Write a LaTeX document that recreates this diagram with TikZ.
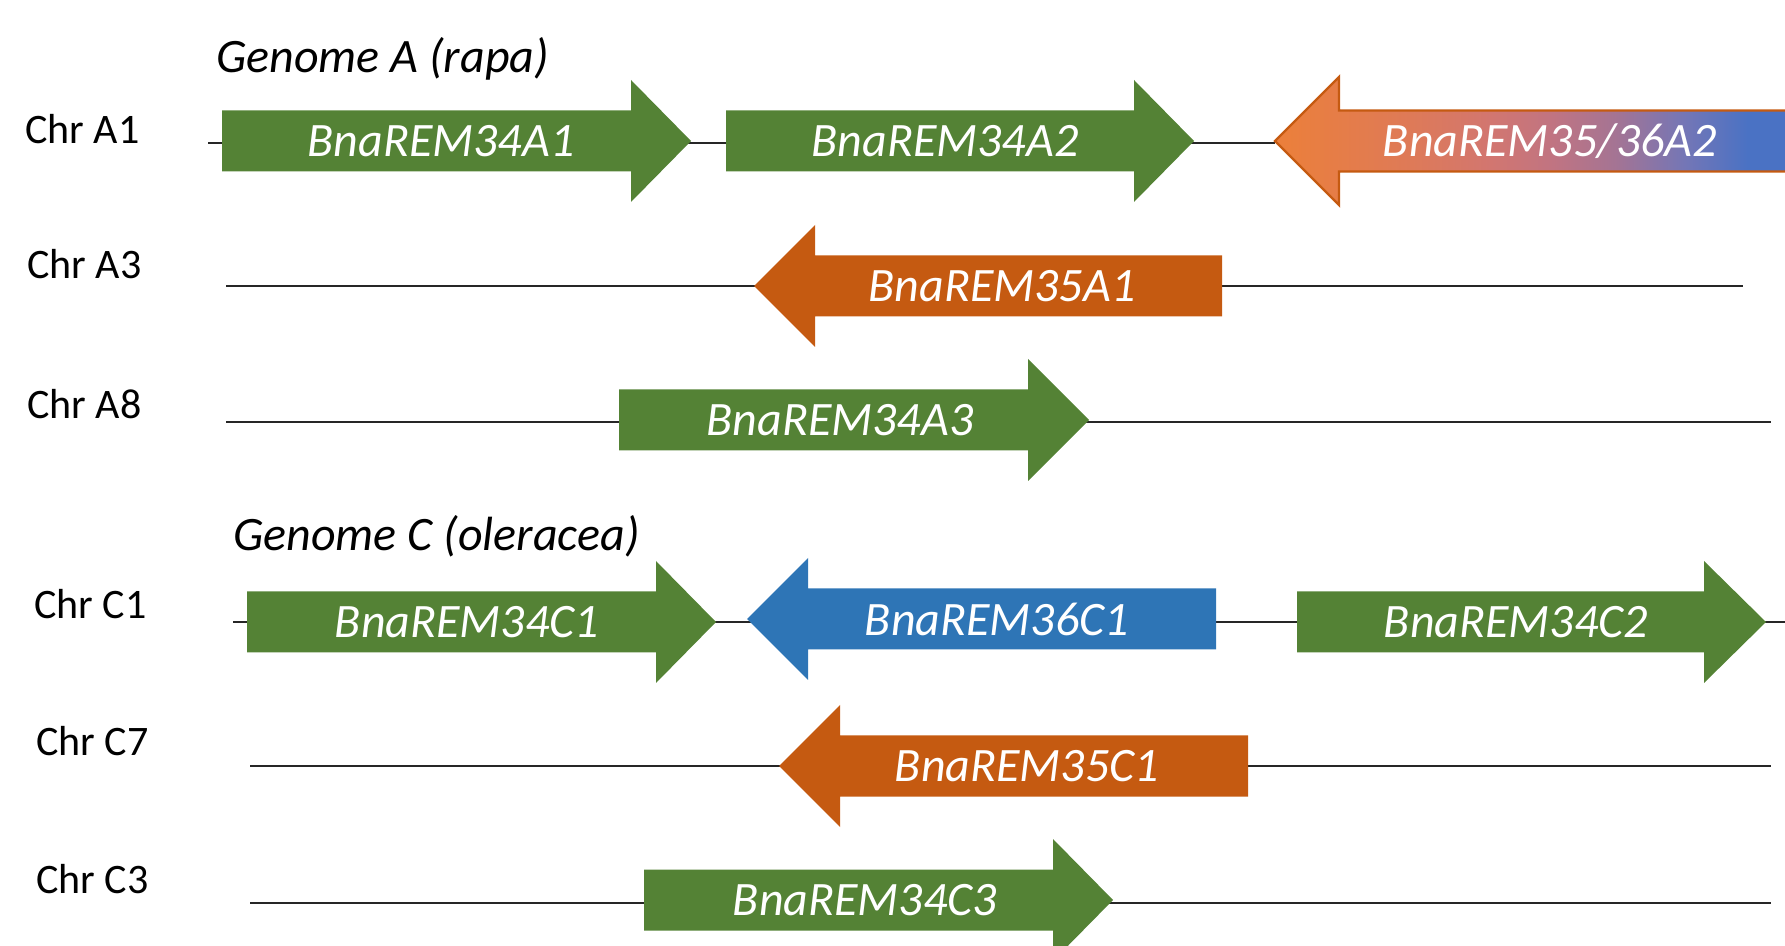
\documentclass[tikz,border=0pt]{standalone}
\usepackage{fontspec}
\setmainfont{Carlito}
\definecolor{genegreen}{HTML}{548235}
\definecolor{geneorange}{HTML}{C55A11}
\definecolor{geneblue}{HTML}{2E75B6}
% orange-to-blue blend of the merged REM35/36 gene
% (TikZ fits the 25bp--75bp part of a shading to the path)
\pgfdeclarehorizontalshading{remblend}{100bp}{%
  color(0bp)=(rgb,255:red,235;green,127;blue,60);
  color(26bp)=(rgb,255:red,235;green,127;blue,60);
  color(38bp)=(rgb,255:red,222;green,122;blue,88);
  color(45.5bp)=(rgb,255:red,210;green,118;blue,112);
  color(51.5bp)=(rgb,255:red,192;green,116;blue,130);
  color(57.5bp)=(rgb,255:red,164;green,116;blue,148);
  color(64bp)=(rgb,255:red,116;green,118;blue,182);
  color(70bp)=(rgb,255:red,74;green,114;blue,196);
  color(100bp)=(rgb,255:red,70;green,114;blue,196)}
% forward gene: #1 style, #2 body start, #3 head base, #4 tip, #5 axis y
\newcommand{\fwdgene}[5]{%
  \path[#1] (#2,#5-30.5) -- (#3,#5-30.5) -- (#3,#5-61) -- (#4,#5)
    -- (#3,#5+61) -- (#3,#5+30.5) -- (#2,#5+30.5) -- cycle;}
% reverse gene: #1 style, #2 tip, #3 head base, #4 body end, #5 axis y
\newcommand{\revgene}[5]{%
  \path[#1] (#2,#5) -- (#3,#5-61) -- (#3,#5-30.5) -- (#4,#5-30.5)
    -- (#4,#5+30.5) -- (#3,#5+30.5) -- (#3,#5+61) -- cycle;}
\tikzset{
  chrline/.style={draw=black!85, line width=0.6pt},
  chrlabel/.style={anchor=west, inner sep=0pt, font=\fontsize{21}{25}\selectfont},
  genomelabel/.style={anchor=west, inner sep=0pt, font=\fontsize{24}{29}\selectfont\itshape},
  genelabel/.style={inner sep=0pt, text=white, font=\fontsize{24}{29}\selectfont\itshape},
  greengene/.style={fill=genegreen},
  orangegene/.style={fill=geneorange},
  bluegene/.style={fill=geneblue},
  blendgene/.style={shading=remblend, draw=geneorange, line width=1.2pt},
}
\begin{document}
\begin{tikzpicture}[x=0.5pt, y=-0.5pt]
\useasboundingbox (0,0) rectangle (1785,946);
\clip (0,0) rectangle (1785,946);

% ---------- genome A ----------
\node[genomelabel] (gA) at (216,59) {Genome A (rapa)};

% Chr A1
\node[chrlabel] (lA1) at (25,129) {Chr A1};
\coordinate (A1s) at (208,143);
\coordinate (A1e) at (1275,143);
\draw[chrline] (A1s) -- (A1e);
\fwdgene{greengene}{222}{631}{691}{141}
\fwdgene{greengene}{726}{1134}{1194}{141}
\path[blendgene]
  (1275,141) -- (1339,77) -- (1339,110.5) -- (1800,110.5)
  -- (1800,171.5) -- (1339,171.5) -- (1339,205) -- cycle;
\node[genelabel] (g34A1) at (441,141) {BnaREM34A1};
\node[genelabel] (g34A2) at (945,141) {BnaREM34A2};
\node[genelabel] (g3536A2) at (1550,141) {BnaREM35/36A2};

% Chr A3
\node[chrlabel] (lA3) at (27,264) {Chr A3};
\coordinate (A3s) at (226,286);
\coordinate (A3e) at (1743,286);
\draw[chrline] (A3s) -- (A3e);
\revgene{orangegene}{754}{815}{1222}{286}
\node[genelabel] (g35A1) at (1002,286) {BnaREM35A1};

% Chr A8
\node[chrlabel] (lA8) at (27,404) {Chr A8};
\coordinate (A8s) at (226,422);
\coordinate (A8e) at (1771,422);
\draw[chrline] (A8s) -- (A8e);
\fwdgene{greengene}{619}{1028}{1089}{420}
\node[genelabel] (g34A3) at (840,420) {BnaREM34A3};

% ---------- genome C ----------
\node[genomelabel] (gC) at (233,536) {Genome C (oleracea)};

% Chr C1
\node[chrlabel] (lC1) at (34,604) {Chr C1};
\coordinate (C1s) at (233,622);
\coordinate (C1e) at (1785,622);
\draw[chrline] (C1s) -- (C1e);
\fwdgene{greengene}{247}{656}{716}{622}
\revgene{bluegene}{747}{808}{1216}{619}
\fwdgene{greengene}{1297}{1704}{1766}{622}
\node[genelabel] (g34C1) at (467,622) {BnaREM34C1};
\node[genelabel] (g36C1) at (997,619) {BnaREM36C1};
\node[genelabel] (g34C2) at (1516,622) {BnaREM34C2};

% Chr C7
\node[chrlabel] (lC7) at (36,741) {Chr C7};
\coordinate (C7s) at (250,766);
\coordinate (C7e) at (1771,766);
\draw[chrline] (C7s) -- (C7e);
\revgene{orangegene}{779}{840}{1248}{766}
\node[genelabel] (g35C1) at (1027,766) {BnaREM35C1};

% Chr C3
\node[chrlabel] (lC3) at (36,879) {Chr C3};
\coordinate (C3s) at (250,903);
\coordinate (C3e) at (1771,903);
\draw[chrline] (C3s) -- (C3e);
\fwdgene{greengene}{644}{1053}{1113}{900}
\node[genelabel] (g34C3) at (865,900) {BnaREM34C3};
\end{tikzpicture}
\end{document}
